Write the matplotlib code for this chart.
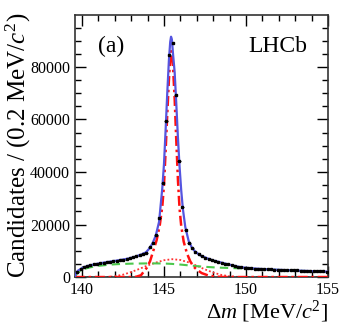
import numpy as np
import matplotlib
matplotlib.use("Agg")
import matplotlib.pyplot as plt
from matplotlib.ticker import MultipleLocator

plt.rcParams['font.family'] = ['Liberation Serif', 'DejaVu Serif']
plt.rcParams['mathtext.fontset'] = 'custom'
plt.rcParams['mathtext.rm'] = 'Liberation Serif'
plt.rcParams['mathtext.it'] = 'Liberation Serif:italic'

# data points: bin centres (0.2 MeV bins) and candidates per bin
dm_data = [139.72 + 0.2 * k for k in range(77)]
counts = [
    2000, 3100, 3800, 4200, 4550, 4850, 5100, 5300, 5500, 5700,
    5850, 6050, 6250, 6450, 6650, 6900, 7200, 7600, 8000, 8400,
    8850, 9300, 11330, 13100, 16030, 22400, 35760, 59280, 84350, 89200,
    69470, 44000, 26830, 17940, 13100, 10950, 9600, 8700, 8000, 7400,
    7000, 6500, 6100, 5750, 5450, 5100, 4800, 4500, 4200, 3950,
    3750, 3550, 3450, 3350, 3250, 3170, 3100, 3030, 2970, 2910,
    2860, 2800, 2760, 2710, 2660, 2610, 2560, 2510, 2460, 2410,
    2360, 2310, 2260, 2210, 2160, 2120, 2080,
]

# total fit (blue)
dm_tot = [139.57, 139.65, 139.75, 139.9, 140.1, 140.4, 140.8, 141.2, 141.6, 142.0,
          142.4, 142.8, 143.2, 143.6, 143.9, 144.1, 144.3, 144.5, 144.7, 144.9,
          145.0, 145.1, 145.2, 145.3, 145.38, 145.43, 145.48, 145.55, 145.65, 145.75,
          145.85, 145.95, 146.05, 146.15, 146.3, 146.5, 146.7, 146.9, 147.2, 147.6,
          148.0, 148.5, 149.0, 149.5, 150.0, 150.5, 151.0, 152.0, 153.0, 154.0, 155.0]
fit_tot = [0, 1500, 2400, 3000, 3700, 4300, 4900, 5350, 5750, 6150,
           6550, 7000, 7650, 8550, 9400, 10800, 12800, 15800, 21000, 34000,
           43000, 56000, 70000, 82500, 89500, 91500, 90500, 85000, 78000, 66000,
           53000, 42000, 33000, 26000, 19000, 13800, 11200, 9700, 8300, 7200,
           6300, 5500, 4700, 3950, 3500, 3250, 3050, 2750, 2500, 2250, 2050]

# signal peak (red dash-dot)
dm_sig = [139.57, 143.0, 143.3, 143.6, 143.95, 144.15, 144.35, 144.55, 144.75, 144.9,
          145.0, 145.1, 145.2, 145.3, 145.38, 145.43, 145.48, 145.55, 145.65, 145.75,
          145.85, 145.95, 146.05, 146.2, 146.4, 146.6, 146.8, 147.0, 147.3, 147.7,
          148.2, 148.7, 155.0]
fit_sig = [0, 0, 100, 700, 3500, 6000, 10000, 14000, 20000, 27000,
           35000, 48000, 62000, 75000, 83000, 86000, 85000, 80000, 68000, 52000,
           37000, 26000, 19500, 13500, 9000, 6000, 4000, 2800, 1500, 600,
           150, 0, 0]

# broad component (red dotted)
dm_wide = [139.57, 141.5, 142.0, 142.5, 143.0, 143.5, 144.0, 144.5, 145.0, 145.5,
           146.0, 146.5, 147.0, 147.5, 148.0, 148.5, 149.0, 149.5, 150.0, 155.0]
fit_wide = [0, 0, 300, 900, 1900, 3100, 4400, 5500, 6400, 6800,
            6500, 5600, 4300, 2900, 1700, 800, 300, 50, 0, 0]

# background (green dashed)
dm_bkg = [139.57, 139.7, 139.9, 140.1, 140.5, 141.0, 141.5, 142.0, 142.5, 143.0,
          143.5, 144.0, 144.5, 145.0, 145.5, 146.0, 146.5, 147.0, 147.5, 148.0,
          148.5, 149.0, 149.5, 150.0, 151.0, 152.0, 153.0, 154.0, 155.0]
fit_bkg = [0, 1300, 2400, 3000, 3700, 4250, 4600, 4850, 5000, 5100,
           5150, 5200, 5200, 5150, 5000, 4750, 4450, 4150, 3900, 3700,
           3550, 3450, 3350, 3250, 2950, 2700, 2450, 2200, 2000]

fig = plt.figure(figsize=(3.45, 3.31), dpi=100)
ax = fig.add_axes([0.217, 0.163, 0.734, 0.792])

ax.plot(dm_wide, fit_wide, color='#ff3030', lw=1.3, ls=(0, (1, 1.2)), zorder=2)
ax.plot(dm_bkg, fit_bkg, color='#4cc84c', lw=1.5, ls=(0, (4, 2.5)), zorder=2)
ax.plot(dm_sig, fit_sig, color='#ff1010', lw=1.8, ls=(0, (4, 1.5, 1, 1.5)), zorder=3)

counts = np.array(counts)
ax.errorbar(dm_data, counts, xerr=0.1, yerr=np.sqrt(counts), fmt='none',
            ecolor='black', elinewidth=0.6, capsize=0, zorder=3.5)
ax.plot(dm_tot, fit_tot, color='#5555e0', lw=1.6, zorder=4)
ax.plot(dm_data, counts, 's', ms=1.6, color='black', zorder=5)

ax.set_xlim(139.57, 155)
ax.set_ylim(0, 99800)
ax.xaxis.set_major_locator(MultipleLocator(5))
ax.xaxis.set_minor_locator(MultipleLocator(1))
ax.yaxis.set_major_locator(MultipleLocator(20000))
ax.yaxis.set_minor_locator(MultipleLocator(5000))
ax.tick_params(which='both', direction='in', top=True, right=True, labelsize=11.5)
ax.tick_params(which='major', length=8, width=1)
ax.tick_params(which='minor', length=4, width=1)
for s in ax.spines.values():
    s.set_linewidth(1.2)
    s.set_color('#333333')

ax.set_xlabel(r'$\Delta m$ [MeV/$c^2$]', fontsize=16, ha='right', x=1.0, labelpad=1)
fig.text(18 / 345, 1 - 278 / 331, r'Candidates / (0.2 MeV/$c^2$)', rotation=90,
         fontsize=18, ha='center', va='bottom')

ax.text(0.09, 0.878, '(a)', transform=ax.transAxes, fontsize=17, va='center')
ax.text(0.92, 0.878, 'LHCb', transform=ax.transAxes, fontsize=17, ha='right', va='center')

fig.savefig('out.png', dpi=100)
